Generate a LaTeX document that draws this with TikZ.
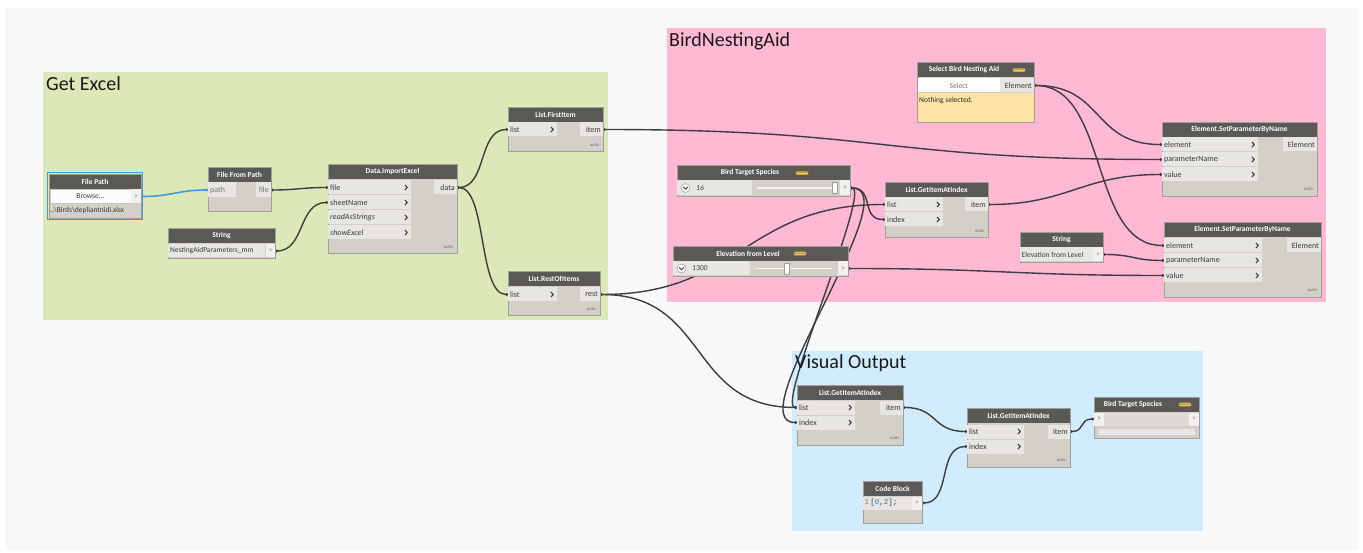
\documentclass[tikz,border=0pt]{standalone}
\usepackage{fontspec}
\setmainfont{Carlito}
\newfontfamily\monof{Liberation Mono}
\usetikzlibrary{arrows.meta}
\definecolor{canvas}{HTML}{F8F8F8}
\definecolor{grpgreen}{HTML}{DCE8B8}
\definecolor{grppink}{HTML}{FFB9D3}
\definecolor{grpblue}{HTML}{D0ECFD}
\definecolor{hdr}{HTML}{5A5955}
\definecolor{bodyc}{HTML}{D3D0CA}
\definecolor{rowc}{HTML}{E8E6E2}
\definecolor{brd}{HTML}{A09E99}
\definecolor{wirec}{HTML}{3D3D3D}
\definecolor{selblue}{HTML}{3F9BE0}
\definecolor{badgec}{HTML}{F3C85A}
\definecolor{yel}{HTML}{FFE3A5}
\definecolor{lbl}{HTML}{3A3A3A}
\definecolor{codeblue}{HTML}{2A7BD6}
\pgfdeclarelayer{bg}
\pgfdeclarelayer{wires}
\pgfsetlayers{bg,wires,main}
\tikzset{
  box/.style={draw=brd, line width=0.6pt, fill=bodyc, anchor=north west, inner sep=0pt, outer sep=0pt},
  rowbox/.style={fill=rowc, anchor=north west, inner sep=0pt, outer sep=0pt},
  hdrtext/.style={text=white, font=\fontsize{7.5}{9}\selectfont\bfseries, inner sep=0pt},
  plbl/.style={text=lbl, font=\fontsize{8}{9}\selectfont, inner sep=0pt},
  glbl/.style={text=black!55, font=\fontsize{8}{9}\selectfont, inner sep=0pt},
  chev/.style={draw=lbl, line width=1.1pt},
  autot/.style={text=black!55, font=\fontsize{3.6}{4}\selectfont\bfseries, inner sep=0pt, anchor=east},
  grptitle/.style={anchor=west, font=\fontsize{20}{22}\selectfont, text=black!90, inner sep=0pt},
  badge/.style={fill=badgec, draw=black!40!badgec, line width=0.3pt, rounded corners=1pt, font=\fontsize{2.8}{3}\selectfont, text=black!70, inner sep=0.8pt},
  wire/.style={draw=wirec, line width=1.4pt, {Circle[length=2.6pt,width=2.6pt]}-{Circle[length=2.6pt,width=2.6pt]}},
}
\newcommand{\dyn}[7]{%
  \node[box, minimum width={(#4-#2)*1pt}, minimum height={(#5-#3)*1pt}] (#1) at (#2,#3) {};
  \fill[hdr] (#2,#3) rectangle (#4,#3+15);
  \draw[brd, line width=0.6pt] (#2,#3) rectangle (#4,#5);
  \node[hdrtext] (#1-t) at (#7,#3+7.5) {#6};
}
\newcommand{\inport}[6]{%
  \node[rowbox, minimum width={(#4-#2)*1pt}, minimum height={(#5-#3-1)*1pt}] (#1) at (#2,#3+0.5) {};
  \node[plbl, anchor=west] at ([xshift=2pt]#1.west) {#6};
  \draw[chev] ([xshift=-6pt,yshift=2.5pt]#1.east) -- ++(2.2,2.5) -- ++(-2.2,2.5);
}
\newcommand{\inportnc}[6]{%
  \node[rowbox, minimum width={(#4-#2)*1pt}, minimum height={(#5-#3-1)*1pt}] (#1) at (#2,#3+0.5) {};
  \node[glbl, anchor=west] at ([xshift=2pt]#1.west) {#6};
}
\newcommand{\outport}[7][plbl]{%
  \node[rowbox, minimum width={(#5-#3)*1pt}, minimum height={(#6-#4-1)*1pt}] (#2) at (#3,#4+0.5) {};
  \node[#1, anchor=east] at ([xshift=-2pt]#2.east) {#7};
}
\newcommand{\valout}[5]{%
  \node[rowbox, fill=rowc!60!white, minimum width={(#4-#2)*1pt}, minimum height={(#5-#3-1)*1pt}] (#1) at (#2,#3+0.5) {};
  \node[glbl, font=\fontsize{7}{8}\selectfont] at (#1.center) {>};
}
\newcommand{\wire}[4][]{%
  \draw[wire,#1] (#2) .. controls +(#4,0) and +(-#4,0) .. (#3);
}
\begin{document}
\begin{tikzpicture}[x=1pt,y=-1pt]
\useasboundingbox (0,0) rectangle (1363,553);
\begin{pgfonlayer}{bg}
\fill[white] (0,0) rectangle (1363,553);
\fill[canvas] (5,8) rectangle (1358,550);
\fill[grpgreen] (43,72) rectangle (608,320);
\fill[grppink] (667,28) rectangle (1326,302);
\fill[grpblue] (792,351) rectangle (1203,531);
\end{pgfonlayer}
\node[grptitle] (gt1) at (46,84) {Get Excel};
\node[grptitle] (gt2) at (669,41) {BirdNestingAid};
\node[grptitle] (gt3) at (795,363) {Visual Output};

% File Path
\dyn{fp}{49}{174}{141}{218}{File Path}{95}
\node[rowbox, fill=white!90!rowc, draw=brd!60, line width=0.3pt, minimum width=81pt, minimum height=14pt] (fp-br) at (50,189.5) {};
\node[plbl, font=\fontsize{7.5}{9}\selectfont] at (fp-br.center) {Browse...};
\valout{fp-out}{131}{189}{141}{204}
\node[plbl, anchor=west, font=\fontsize{7.5}{9}\selectfont] (fp-txt) at (50,211) {..\textbackslash Birds\textbackslash depliantnidi.xlsx};
\draw[selblue, line width=1.4pt] (47.5,172.5) rectangle (142.5,219.5);

% File From Path
\dyn{ffp}{208}{167}{271}{211}{File From Path}{239.5}
\inportnc{ffp-path}{208}{182}{236}{198}{path}
\outport[glbl]{ffp-file}{256}{182}{271}{198}{file}

% String 1
\dyn{s1}{168}{228}{275}{258}{String}{221.5}
\node[rowbox, minimum width=97pt, minimum height=13pt] (s1-txt) at (168,244.5) {};
\node[plbl, anchor=west, font=\fontsize{7.5}{9}\selectfont] at ([xshift=2pt]s1-txt.west) {NestingAidParameters\_mm};
\valout{s1-out}{266}{244}{275}{258}

% Data.ImportExcel
\dyn{die}{328}{164}{457}{253}{Data.ImportExcel}{392.5}
\inport{die-file}{328}{180}{411}{195}{file}
\inport{die-sheet}{328}{195}{411}{210}{sheetName}
\inport{die-ras}{328}{210}{411}{225}{\itshape readAsStrings}
\inport{die-se}{328}{225}{411}{240}{\itshape showExcel}
\outport{die-data}{434}{180}{457}{195}{data}
\node[autot] at (453,247) {AUTO};

% List.FirstItem
\dyn{lfi}{508}{107}{603}{151}{List.FirstItem}{555.5}
\inport{lfi-list}{508}{122}{557}{137}{list}
\outport{lfi-item}{580}{122}{603}{137}{item}
\node[autot] at (599,145) {AUTO};

% List.RestOfItems
\dyn{lri}{508}{271}{600}{315}{List.RestOfItems}{554}
\inport{lri-list}{508}{287}{557}{302}{list}
\outport{lri-rest}{580}{287}{600}{302}{rest}
\node[autot] at (596,309) {AUTO};

% Select Bird Nesting Aid
\dyn{sb}{917}{62}{1034}{122}{Select Bird Nesting Aid}{964}
\node[badge] at (1019,70) {Renamed};
\node[rowbox, fill=white!92!rowc, minimum width=83pt, minimum height=14pt] (sb-sel) at (917.3,78.5) {};
\node[glbl, font=\fontsize{7.5}{9}\selectfont] at (sb-sel.center) {Select};
\outport{sb-el}{1000}{78}{1034}{93}{Element}
\fill[yel] (917.3,93) rectangle (1033.7,121.7);
\draw[brd, line width=0.6pt] (917,62) rectangle (1034,122);
\node[plbl, anchor=west, font=\fontsize{7.5}{9}\selectfont, text=black!85] at (919,100.5) {Nothing selected.};

% Bird Target Species slider
\dyn{bts}{677}{165}{850}{196}{Bird Target Species}{750}
\node[badge] at (802,173) {Renamed};
\fill[rowc] (677.3,180.5) rectangle (752,195.5);
\node[circle, fill=white!85!rowc, draw=brd, line width=0.5pt, minimum size=9pt, inner sep=0pt] (bts-btn) at (685.5,188) {};
\draw[lbl, line width=0.8pt] (683.2,187) -- (685.5,189.2) -- (687.8,187);
\node[plbl, anchor=west, font=\fontsize{7.5}{9}\selectfont\itshape] at (696,188) {16};
\draw[white!75!bodyc, line width=1.3pt] (757,188) -- (833,188);
\node[fill=white, draw=brd, line width=0.4pt, minimum width=5pt, minimum height=11pt, inner sep=0pt] (bts-th) at (835,188) {};
\valout{bts-out}{840}{180}{850}{196}

% Elevation from Level slider
\dyn{efl}{673}{246}{848}{276}{Elevation from Level}{748}
\node[badge] at (800,253.5) {Renamed};
\fill[rowc] (673.3,261.5) rectangle (750,275.5);
\node[circle, fill=white!85!rowc, draw=brd, line width=0.5pt, minimum size=9pt, inner sep=0pt] (efl-btn) at (681.5,268.5) {};
\draw[lbl, line width=0.8pt] (679.2,267.5) -- (681.5,269.7) -- (683.8,267.5);
\node[plbl, anchor=west, font=\fontsize{7.5}{9}\selectfont\itshape] at (692,268.5) {1300};
\draw[white!75!bodyc, line width=1.3pt] (755,268.5) -- (832,268.5);
\node[fill=white, draw=brd, line width=0.4pt, minimum width=5pt, minimum height=11pt, inner sep=0pt] (efl-th) at (787,268.5) {};
\valout{efl-out}{838}{261}{848}{276}

% List.GetItemAtIndex (top)
\dyn{gia}{885}{182}{988}{237}{List.GetItemAtIndex}{936.5}
\inport{gia-list}{885}{197}{943}{212}{list}
\inport{gia-idx}{885}{212}{943}{227}{index}
\outport{gia-item}{965}{197}{988}{212}{item}
\node[autot] at (984,231) {AUTO};

% Element.SetParameterByName 1
\dyn{sp1}{1162}{122}{1317}{196}{Element.SetParameterByName}{1239.5}
\inport{sp1-el}{1162}{137}{1258}{152}{element}
\inport{sp1-pn}{1162}{152}{1258}{167}{parameterName}
\inport{sp1-val}{1162}{167}{1258}{182}{value}
\outport{sp1-out}{1283}{137}{1317}{152}{Element}
\node[autot] at (1313,189) {AUTO};

% Element.SetParameterByName 2
\dyn{sp2}{1164}{222}{1321}{297}{Element.SetParameterByName}{1242.5}
\inport{sp2-el}{1164}{238}{1262}{253}{element}
\inport{sp2-pn}{1164}{253}{1262}{268}{parameterName}
\inport{sp2-val}{1164}{268}{1262}{283}{value}
\outport{sp2-out}{1287}{238}{1321}{253}{Element}
\node[autot] at (1317,290) {AUTO};

% String 2
\dyn{s2}{1020}{232}{1103}{262}{String}{1061.5}
\node[rowbox, minimum width=73pt, minimum height=14pt] (s2-txt) at (1020,247.5) {};
\node[plbl, anchor=west, font=\fontsize{7.5}{9}\selectfont] at ([xshift=1.5pt]s2-txt.west) {Elevation from Level};
\valout{s2-out}{1093}{247}{1103}{262}

% Visual Output: List.GetItemAtIndex 1
\dyn{g1}{797}{385}{903}{445}{List.GetItemAtIndex}{850}
\inport{g1-list}{797}{400}{855}{415}{list}
\inport{g1-idx}{797}{415}{855}{430}{index}
\outport{g1-item}{880}{400}{903}{415}{item}
\node[autot] at (899,438) {AUTO};

% Code Block
\dyn{cb}{863}{481}{922}{523}{Code Block}{892.5}
\node[rowbox, minimum width=49pt, minimum height=13pt] (cb-code) at (863,496.5) {};
\node[anchor=west, inner sep=0pt, font=\fontsize{7.5}{9}\monof] at (864.5,503) {\textcolor{black!50}{1}\,\textcolor{lbl}{[}\textcolor{codeblue}{0}\textcolor{lbl}{,}\textcolor{codeblue}{2}\textcolor{lbl}{];}};
\valout{cb-out}{912}{496}{922}{510}

% Visual Output: List.GetItemAtIndex 2
\dyn{g2}{967}{408}{1070}{467}{List.GetItemAtIndex}{1018.5}
\inport{g2-list}{967}{424}{1024}{439}{list}
\inport{g2-idx}{967}{439}{1024}{454}{index}
\outport{g2-item}{1048}{424}{1070}{439}{item}
\node[autot] at (1066,460) {AUTO};

% Watch: Bird Target Species
\dyn{w}{1094}{397}{1199}{438}{Bird Target Species}{1133}
\node[badge] at (1185,404.5) {Renamed};
\valout{w-in}{1094}{412}{1104}{426}
\fill[rowc!50!bodyc] (1104,412.5) rectangle (1189,425.5);
\valout{w-out}{1189}{412}{1199}{426}
\fill[rowc] (1098,428.5) rectangle (1195,434.5);

% Wires
\begin{pgfonlayer}{wires}
\wire[draw=selblue, line width=1.6pt]{fp-out.east}{ffp-path.west}{30}
\wire{ffp-file.east}{die-file.west}{25}
\wire{s1-out.east}{die-sheet.west}{30}
\wire{die-data.east}{lfi-list.west}{30}
\wire{die-data.east}{lri-list.west}{30}
\wire{lfi-item.east}{sp1-pn.west}{280}
\wire{sb-el.east}{sp1-el.west}{70}
\wire{sb-el.east}{sp2-el.west}{75}
\wire{bts-out.east}{gia-idx.west}{25}
\wire{lri-rest.east}{gia-list.west}{140}
\wire{lri-rest.east}{g1-list.west}{110}
\wire{bts-out.east}{g1-idx.west}{60}
\wire{bts-out.east}{g1-list.west}{22}
\wire{gia-item.east}{sp1-val.west}{80}
\wire{efl-out.east}{sp2-val.west}{150}
\wire{s2-out.east}{sp2-pn.west}{30}
\wire{g1-item.east}{g2-list.west}{35}
\wire{cb-out.east}{g2-idx.west}{30}
\wire{g2-item.east}{w-in.west}{15}
\end{pgfonlayer}
\end{tikzpicture}
\end{document}
